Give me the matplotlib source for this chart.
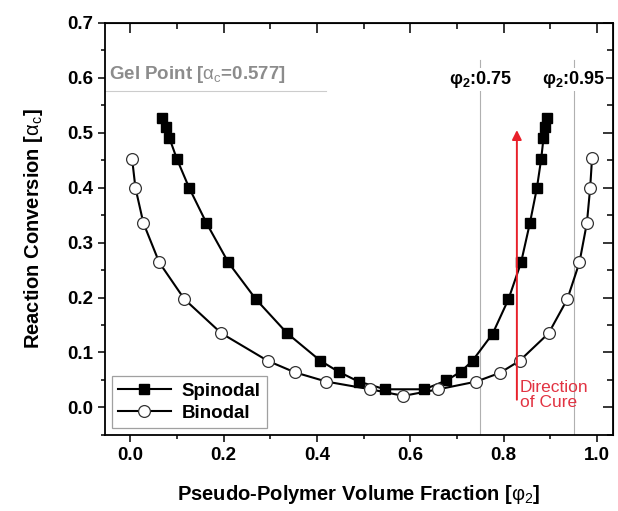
import matplotlib
matplotlib.use("Agg")
import matplotlib.pyplot as plt
from matplotlib.ticker import MultipleLocator, FormatStrFormatter

plt.rcParams['font.family'] = ['Liberation Sans', 'DejaVu Sans']
plt.rcParams['mathtext.fontset'] = 'custom'
plt.rcParams['mathtext.rm'] = 'Liberation Sans'
plt.rcParams['mathtext.it'] = 'Liberation Sans:italic'
plt.rcParams['mathtext.bf'] = 'Liberation Sans:bold'
plt.rcParams['mathtext.default'] = 'rm'

# spinodal curve (filled squares)
spin_x = [0.069, 0.076, 0.084, 0.100, 0.126, 0.163, 0.210, 0.269, 0.336, 0.407,
          0.446, 0.489, 0.546, 0.630, 0.677, 0.708, 0.733, 0.776, 0.810, 0.837,
          0.856, 0.871, 0.880, 0.885, 0.889, 0.892]
spin_y = [0.527, 0.511, 0.490, 0.452, 0.400, 0.336, 0.264, 0.197, 0.135, 0.085,
          0.065, 0.047, 0.033, 0.033, 0.049, 0.065, 0.085, 0.134, 0.197, 0.264,
          0.336, 0.400, 0.452, 0.490, 0.511, 0.527]

# binodal curve (open circles)
bin_x = [0.004, 0.011, 0.028, 0.062, 0.116, 0.195, 0.294, 0.352, 0.420, 0.514,
         0.585, 0.660, 0.741, 0.792, 0.834, 0.896, 0.936, 0.962, 0.978, 0.985, 0.989]
bin_y = [0.452, 0.400, 0.336, 0.264, 0.197, 0.135, 0.085, 0.064, 0.047, 0.033,
         0.021, 0.033, 0.047, 0.063, 0.085, 0.135, 0.197, 0.264, 0.336, 0.400, 0.454]

gel_point = 0.577
phi_lines = [0.75, 0.95]
phi_labels = [r'$\mathbf{\varphi_2}$:0.75', r'$\mathbf{\varphi_2}$:0.95']
cure_x = 0.828

fig = plt.figure(figsize=(6.18, 5.11), dpi=100)
ax = fig.add_axes([0.170, 0.149, 0.822, 0.806])

ax.set_xlim(-0.054, 1.034)
ax.set_ylim(-0.05, 0.7)

# reference lines
for xv, lab in zip(phi_lines, phi_labels):
    ax.plot([xv, xv], [-0.05, 0.633], color='#b0b0b0', lw=0.8, zorder=1)
    ax.text(xv, 0.597, lab, ha='center', va='center', fontsize=13,
            fontweight='bold', zorder=4,
            bbox=dict(facecolor='white', edgecolor='none', pad=0.5))
ax.plot([-0.054, 0.42], [gel_point, gel_point], color='#cccccc', lw=0.8, zorder=1)
ax.text(-0.045, 0.587, r'Gel Point [$\alpha_c$=0.577]', color='#8c8c8c',
        fontsize=13.5, fontweight='bold', ha='left', va='bottom')

ax.plot(spin_x, spin_y, '-s', color='black', lw=1.5, ms=7.5,
        mfc='black', mec='black', label='Spinodal', zorder=3)
ax.plot(bin_x, bin_y, '-o', color='black', lw=1.5, ms=8.5,
        mfc='white', mec='#333333', mew=0.9, label='Binodal', zorder=3)

ax.annotate('', xy=(cure_x, 0.505), xytext=(cure_x, 0.014),
            arrowprops=dict(arrowstyle='-|>', color='#e8202a', lw=1.4,
                            mutation_scale=14, shrinkA=0, shrinkB=0))
ax.text(cure_x + 0.006, 0.05, 'Direction\nof Cure', color='#e23342',
        fontsize=12.5, ha='left', va='top', linespacing=1.0)

leg = ax.legend(loc='lower left', prop={'weight': 'bold', 'size': 13.5},
                frameon=True, fancybox=False, edgecolor='#888888',
                handlelength=2.8, borderpad=0.35, labelspacing=0.25,
                handletextpad=0.6, borderaxespad=0.35)
leg.get_frame().set_linewidth(0.9)

ax.xaxis.set_major_locator(MultipleLocator(0.2))
ax.xaxis.set_minor_locator(MultipleLocator(0.1))
ax.yaxis.set_major_locator(MultipleLocator(0.1))
ax.yaxis.set_minor_locator(MultipleLocator(0.05))
ax.xaxis.set_major_formatter(FormatStrFormatter('%.1f'))
ax.yaxis.set_major_formatter(FormatStrFormatter('%.1f'))
ax.tick_params(which='major', direction='out', length=5, width=1.1, labelsize=13.5)
ax.tick_params(which='minor', direction='out', length=3, width=1.1)
for lab in ax.get_xticklabels() + ax.get_yticklabels():
    lab.set_fontweight('bold')

# inward ticks on top and right
top = ax.secondary_xaxis('top')
top.xaxis.set_major_locator(MultipleLocator(0.2))
top.xaxis.set_minor_locator(MultipleLocator(0.1))
top.tick_params(which='major', direction='in', length=7, width=1.1, labeltop=False)
top.tick_params(which='minor', direction='in', length=4.5, width=1.1)
right = ax.secondary_yaxis('right')
right.yaxis.set_major_locator(MultipleLocator(0.1))
right.yaxis.set_minor_locator(MultipleLocator(0.05))
right.tick_params(which='major', direction='in', length=7, width=1.1, labelright=False)
right.tick_params(which='minor', direction='in', length=4.5, width=1.1)

for sp in ax.spines.values():
    sp.set_linewidth(1.3)

ax.set_xlabel(r'Pseudo-Polymer Volume Fraction [$\varphi_2$]', fontsize=14.5,
              fontweight='bold', labelpad=14)
ax.set_ylabel(r'Reaction Conversion [$\alpha_c$]', fontsize=14.5,
              fontweight='bold', labelpad=16)

fig.savefig('out.png', dpi=100)
